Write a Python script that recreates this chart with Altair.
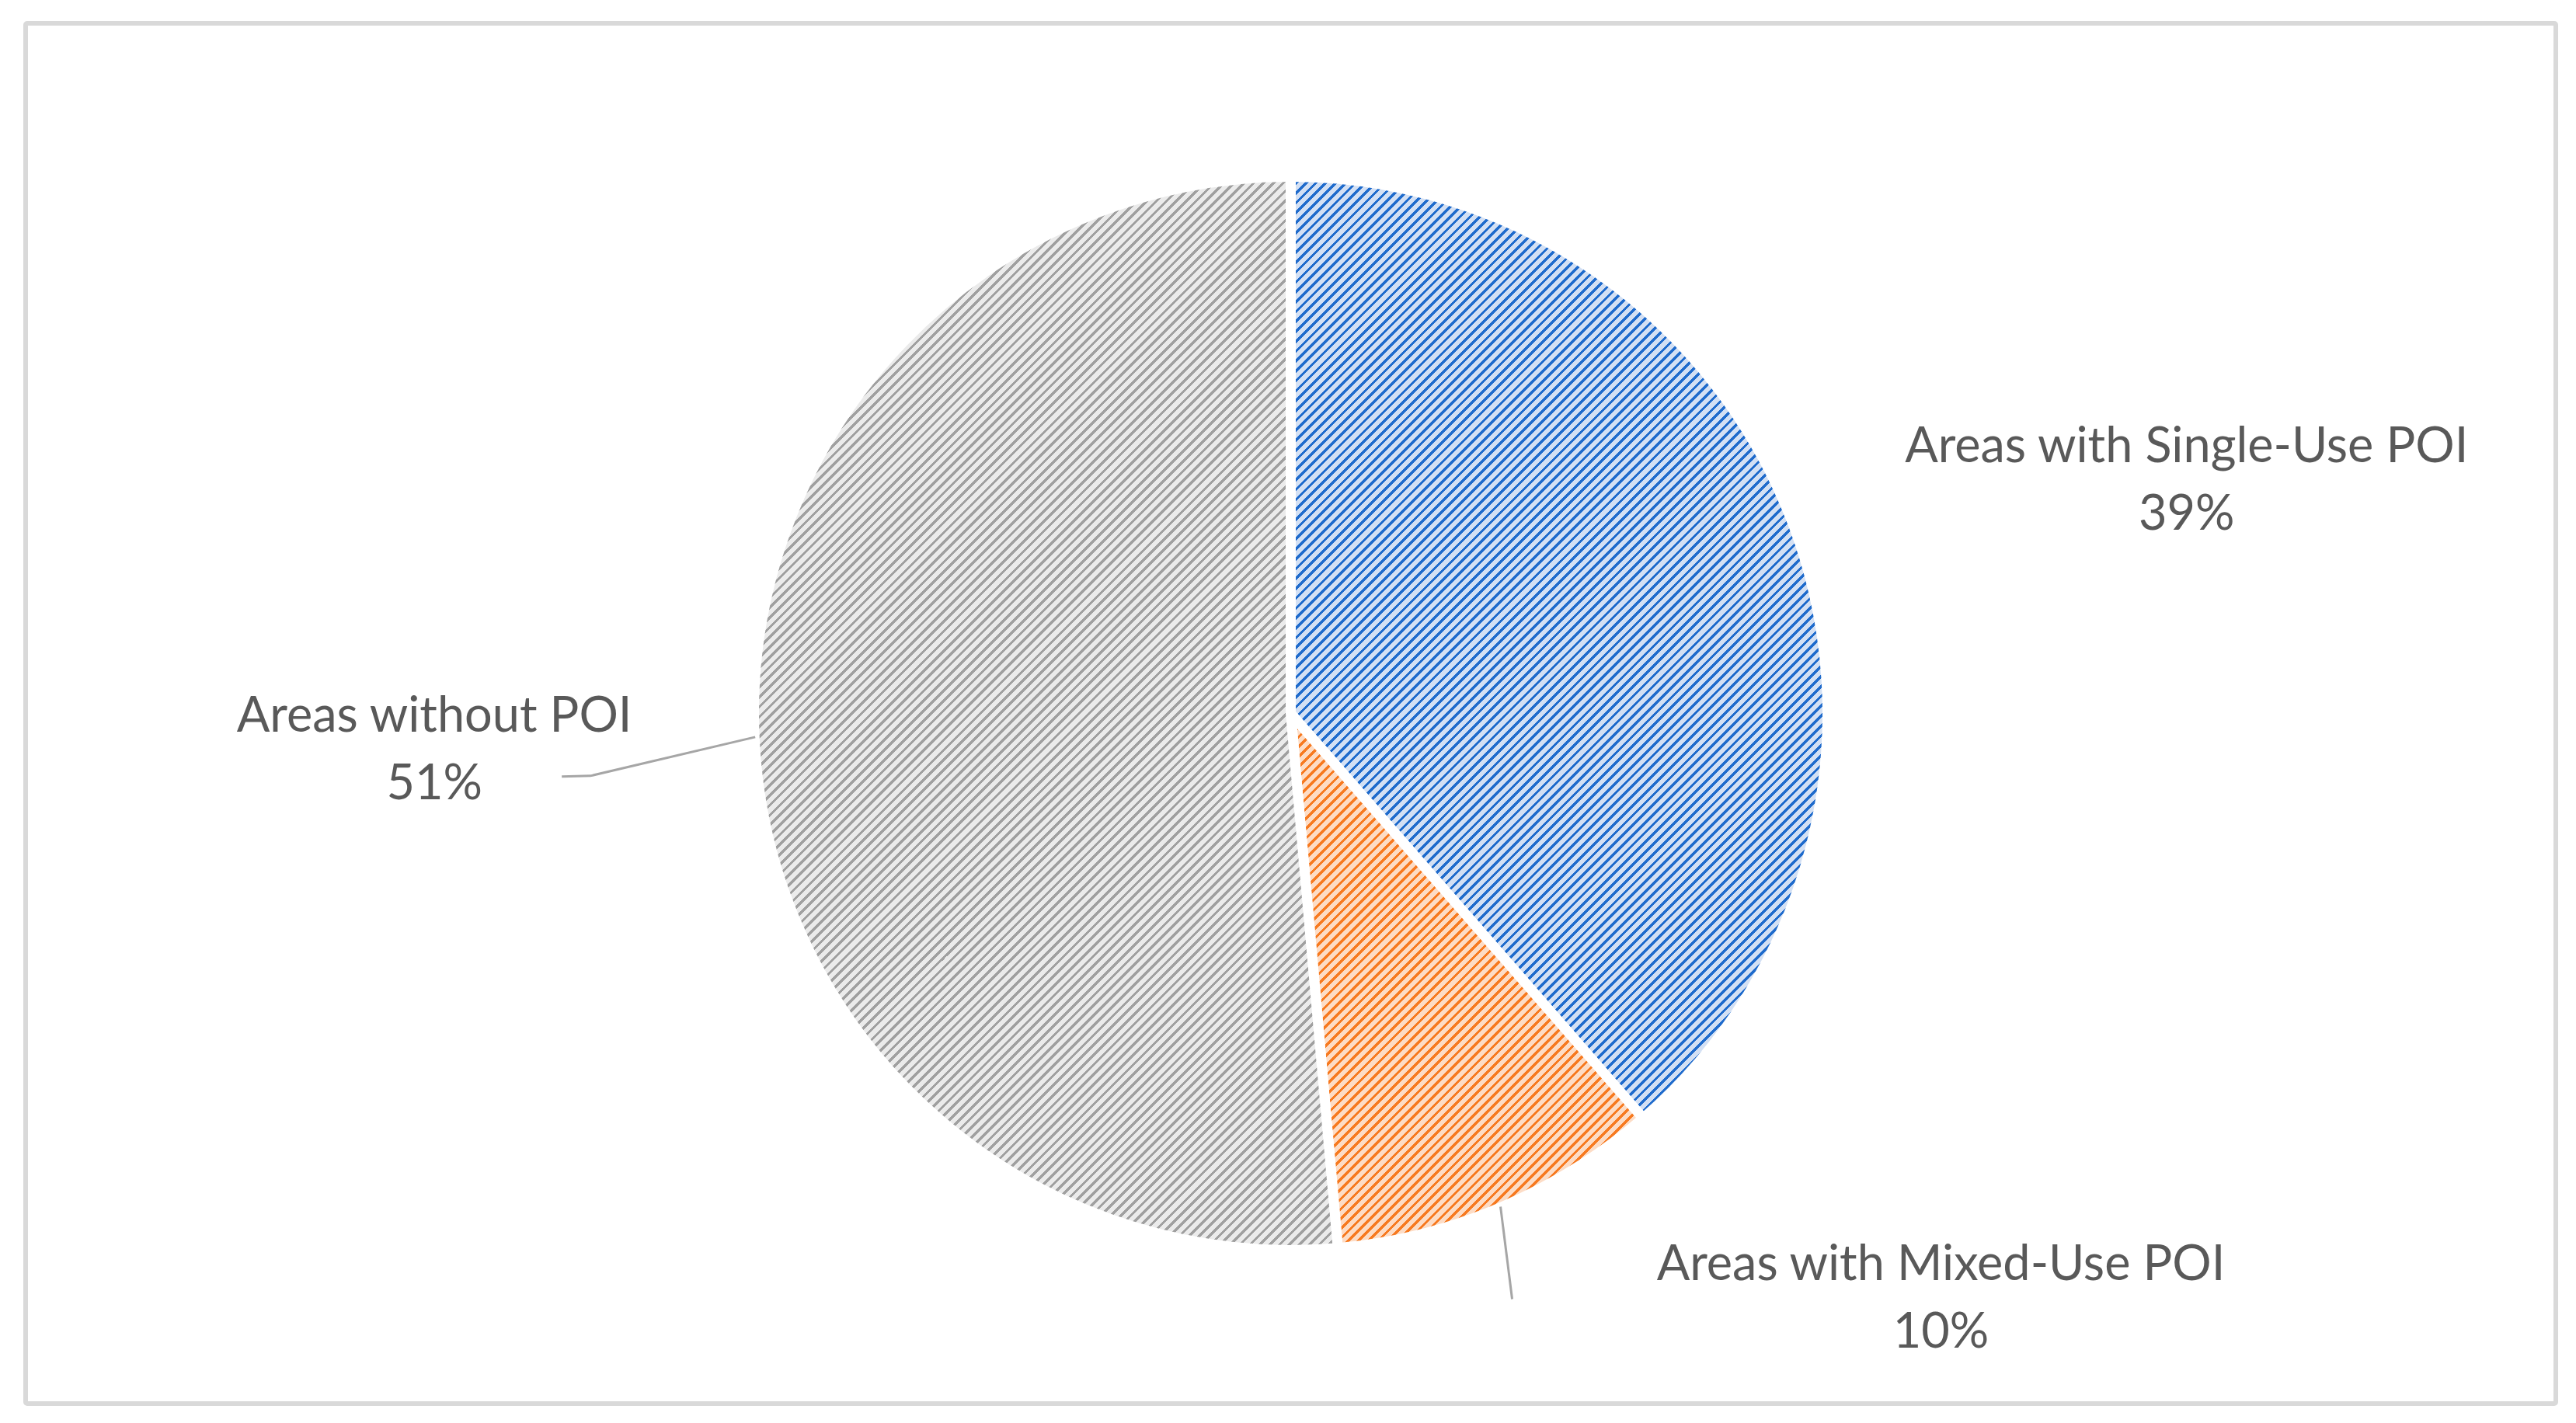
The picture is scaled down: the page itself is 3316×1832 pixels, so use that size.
import math
import altair as alt
import pandas as pd

# ---- data -------------------------------------------------------------
categories = ["Areas with Single-Use POI", "Areas with Mixed-Use POI", "Areas without POI"]
shares = [38.6, 10.0, 51.4]

# ---- styles -----------------------------------------------------------
dark_colors = ["#1f6bcc", "#f77a20", "#a0a0a0"]
light_colors = ["#d3e0f4", "#fddcc5", "#ebebeb"]
label_offsets = {  # dx, dy from slice mid-angle on the rim
    categories[0]: (507, -82),
    categories[1]: (567, 95),
    categories[2]: (-413, -7),
}
leader_offsets = {  # successive points relative to rim point
    categories[1]: [(0, 0), (15, 119)],
    categories[2]: [(0, 0), (-212, 50), (-249, 51)],
}

W, H = 3257, 1777
CX, CY = W / 2, H / 2
R = 691          # outer radius (white stroke eats 6.5px)
R_RIM = 690
FONT = "Lato"
FS = 63
TEXT_COLOR = "#595959"

df = pd.DataFrame({"category": categories, "share": shares})


def slice_bbox(a0, a1, r):
    pts = [(0.0, 0.0), (r * math.sin(a0), -r * math.cos(a0)), (r * math.sin(a1), -r * math.cos(a1))]
    for k in range(5):
        a = k * math.pi / 2
        if a0 < a < a1:
            pts.append((r * math.sin(a), -r * math.cos(a)))
    xs = [p[0] for p in pts]
    ys = [p[1] for p in pts]
    return max(xs) - min(xs), max(ys) - min(ys)


def hatch(w, h, dark, light, period=9.0, line=3.3, alpha_deg=45.0):
    sa = math.sin(math.radians(alpha_deg))
    ca = math.cos(math.radians(alpha_deg))
    span = w * sa + h * ca
    k = span / (w * w * sa * sa + h * h * ca * ca)
    x2 = k * w * sa
    y2 = k * h * ca
    stops = []
    i = 0
    while i * period < span:
        o0 = min(i * period / span, 1)
        o1 = min((i * period + line) / span, 1)
        o2 = min((i + 1) * period / span, 1)
        stops += [(o0, dark), (o1, dark), (o1, light), (o2, light)]
        i += 1
    return alt.Gradient(
        gradient="linear", x1=0, y1=0, x2=round(x2, 6), y2=round(y2, 6),
        stops=[alt.GradientStop(offset=round(o, 6), color=c) for o, c in stops],
    )


gradients = []
cum = 0.0
for s, d, l in zip(shares, dark_colors, light_colors):
    a0 = cum / 100 * 2 * math.pi
    a1 = (cum + s) / 100 * 2 * math.pi
    w, h = slice_bbox(a0, a1, R)
    gradients.append(hatch(w, h, d, l))
    cum += s

theta_scale = alt.Scale(domain=[0, 100])

base = alt.Chart(df).transform_window(
    cum_end="sum(share)", frame=[None, 0]
).transform_calculate(
    cum_start="datum.cum_end - datum.share",
    mid="datum.cum_end - datum.share / 2",
    label="datum.category + '\\n' + format(datum.share, '.0f') + '%'",
)

layers = []
for cat, grad in zip(categories, gradients):
    layers.append(
        base.transform_filter(alt.datum.category == cat)
        .mark_arc(radius=R, stroke="white", strokeWidth=13, fill=grad)
        .encode(
            theta=alt.Theta("cum_start:Q", scale=theta_scale, stack=False),
            theta2="cum_end:Q",
        )
    )

for cat, pts in leader_offsets.items():
    steps = list(range(len(pts)))
    dx_expr = " : ".join(f"datum.step == {i} ? {p[0]}" for i, p in enumerate(pts[:-1])) + f" : {pts[-1][0]}"
    dy_expr = " : ".join(f"datum.step == {i} ? {p[1]}" for i, p in enumerate(pts[:-1])) + f" : {pts[-1][1]}"
    layers.append(
        base.transform_filter(alt.datum.category == cat)
        .transform_calculate(step=str(steps))
        .transform_flatten(["step"])
        .transform_calculate(
            px=f"{CX} + {R_RIM} * sin(datum.mid / 100 * 2 * PI) + ({dx_expr})",
            py=f"{CY} - {R_RIM} * cos(datum.mid / 100 * 2 * PI) + ({dy_expr})",
        )
        .mark_line(color="#a6a6a6", strokeWidth=3)
        .encode(
            x=alt.X("px:Q", scale=None, axis=None),
            y=alt.Y("py:Q", scale=None, axis=None),
            order=alt.Order("step:Q"),
        )
    )

for cat in categories:
    dx, dy = label_offsets[cat]
    layers.append(
        base.transform_filter(alt.datum.category == cat)
        .mark_text(
            radius=R_RIM, dx=dx, dy=dy, align="center", baseline="alphabetic",
            lineBreak="\n", lineHeight=87, font=FONT, fontSize=FS, color=TEXT_COLOR,
        )
        .encode(theta=alt.Theta("mid:Q", scale=theta_scale), text="label:N")
    )

chart = (
    alt.layer(*layers)
    .properties(
        width=W, height=H,
        autosize=alt.AutoSizeParams(type="none"),
        padding={"left": 25, "top": 22, "right": 8, "bottom": 6},
    )
    .configure_view(stroke="#d9d9d9", strokeWidth=6, cornerRadius=2)
)

chart.save("out.html", embed_options={"renderer": "svg", "actions": False})
